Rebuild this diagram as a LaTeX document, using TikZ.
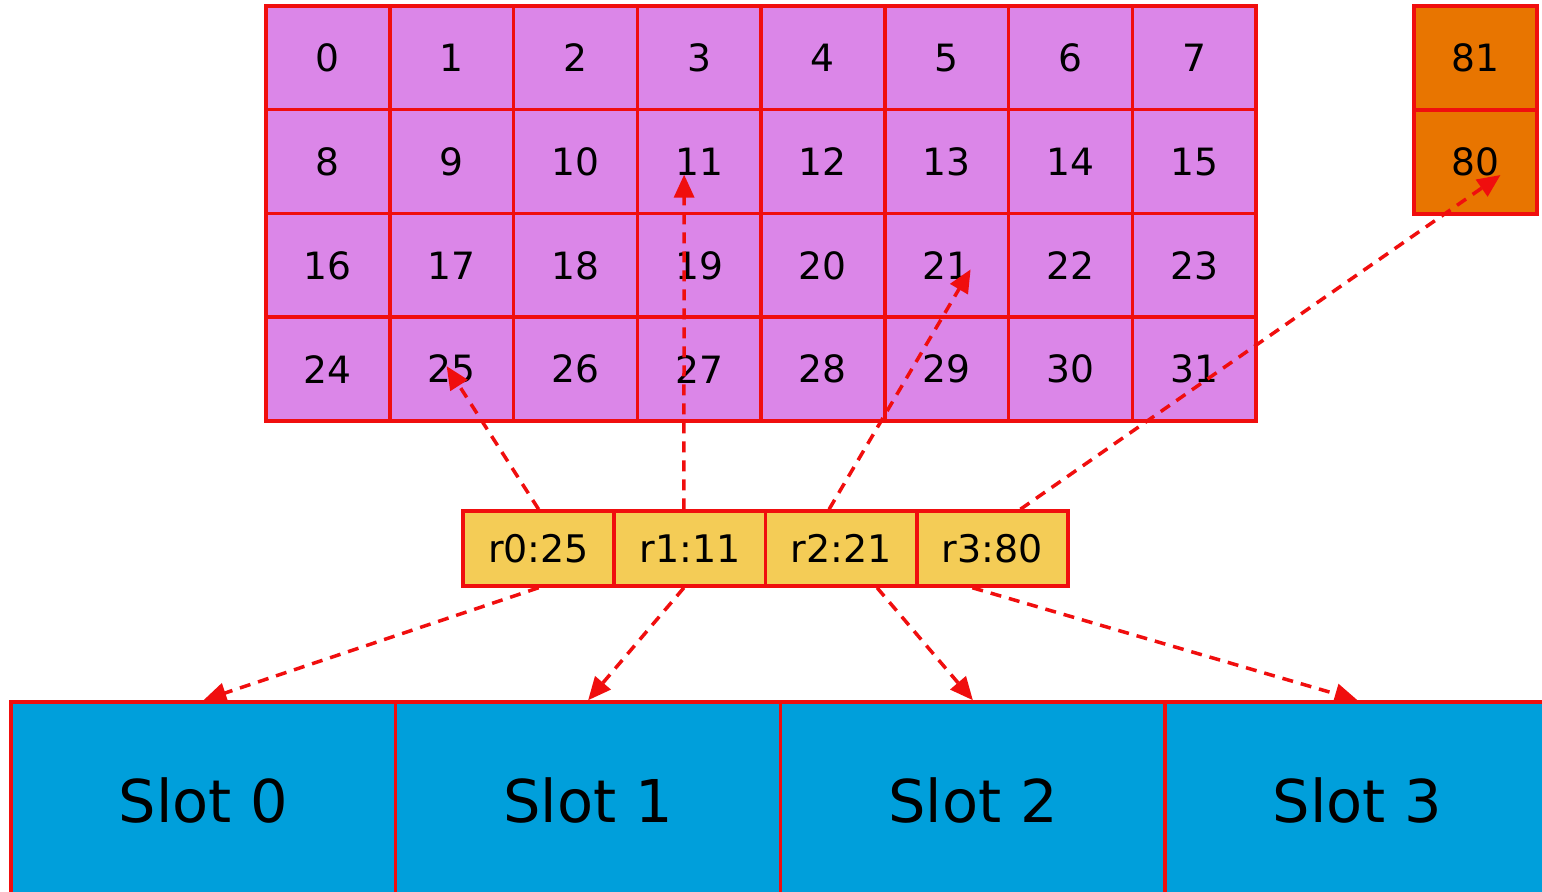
\documentclass[tikz,border=0pt]{standalone}
\usepackage{fontspec}
\setmainfont{DejaVu Sans}
\usetikzlibrary{arrows.meta,calc}
\definecolor{lred}{RGB}{240,14,14}
\definecolor{cpurple}{RGB}{219,134,232}
\definecolor{corange}{RGB}{232,117,0}
\definecolor{cyellow}{RGB}{244,204,86}
\definecolor{cblue}{RGB}{0,159,219}
\begin{document}
\begin{tikzpicture}[x=0.5pt,y=-0.5pt,
  box/.style={draw=lred, line width=1.75pt, inner sep=0pt, text=black},
  cell/.style={box, fill=cpurple, minimum width=61.875pt, minimum height=51.9pt, font=\fontsize{18.8}{20}\selectfont},
  ocell/.style={box, fill=corange, minimum width=61.5pt, minimum height=52pt, font=\fontsize{18.8}{20}\selectfont},
  reg/.style={box, fill=cyellow, minimum width=75.6pt, minimum height=37.5pt, font=\fontsize{19}{21}\selectfont},
  slot/.style={box, fill=cblue, minimum width=192.4pt, minimum height=98pt, font=\fontsize{29.5}{32}\selectfont},
  link/.style={draw=lred, line width=1.75pt, dash pattern=on 5.5pt off 4pt, -{Triangle[length=11.5pt,width=10pt]}}
]
\clip (0,0) rectangle (1542,891);
\fill[white] (0,0) rectangle (1542,891);
% grid
\foreach \i in {0,...,31}{
  \pgfmathtruncatemacro{\col}{mod(\i,8)}
  \pgfmathtruncatemacro{\row}{int(\i/8)}
  \node[cell] (c\i) at ({266+123.75*(\col+0.5)},{6+103.75*(\row+0.5)}) {\i};
}
\node[ocell] (c81) at (1475.5,58) {81};
\node[ocell] (c80) at (1475.5,162) {80};
% registers
\node[reg] (r0) at (538.6,548.5) {r0:25};
\node[reg] (r1) at (689.9,548.5) {r1:11};
\node[reg] (r2) at (841.1,548.5) {r2:21};
\node[reg] (r3) at (992.4,548.5) {r3:80};
% slots
\node[slot] (s0) at (203.4,800) {Slot 0};
\node[slot] (s1) at (588.1,800) {Slot 1};
\node[slot] (s2) at (972.9,800) {Slot 2};
\node[slot] (s3) at (1357.6,800) {Slot 3};
% anchor points
\coordinate (t25) at ($(c25.center)+(-5,-3)$);
\coordinate (t11) at ($(c11.center)+(-15,13)$);
\coordinate (t21) at ($(c21.center)+(24,4)$);
\coordinate (t80) at ($(c80.center)+(25,13)$);
\coordinate (u1) at ($(r1.north)+(-6,0)$);
\coordinate (u2) at ($(r2.north)+(-12,0)$);
\coordinate (u3) at ($(r3.north)+(28,0)$);
\coordinate (d1) at ($(r1.south)+(-6,0)$);
\coordinate (d2) at ($(r2.south)+(36,0)$);
\coordinate (d3) at ($(r3.south)+(-20,0)$);
% links up
\draw[link] (r0.north) -- (t25);
\draw[link] (u1) -- (t11);
\draw[link] (u2) -- (t21);
\draw[link] (u3) -- (t80);
% links down
\draw[link] (r0.south) -- (s0.north);
\draw[link] (d1) -- (s1.north);
\draw[link] (d2) -- (s2.north);
\draw[link] (d3) -- (s3.north);
\end{tikzpicture}
\end{document}
